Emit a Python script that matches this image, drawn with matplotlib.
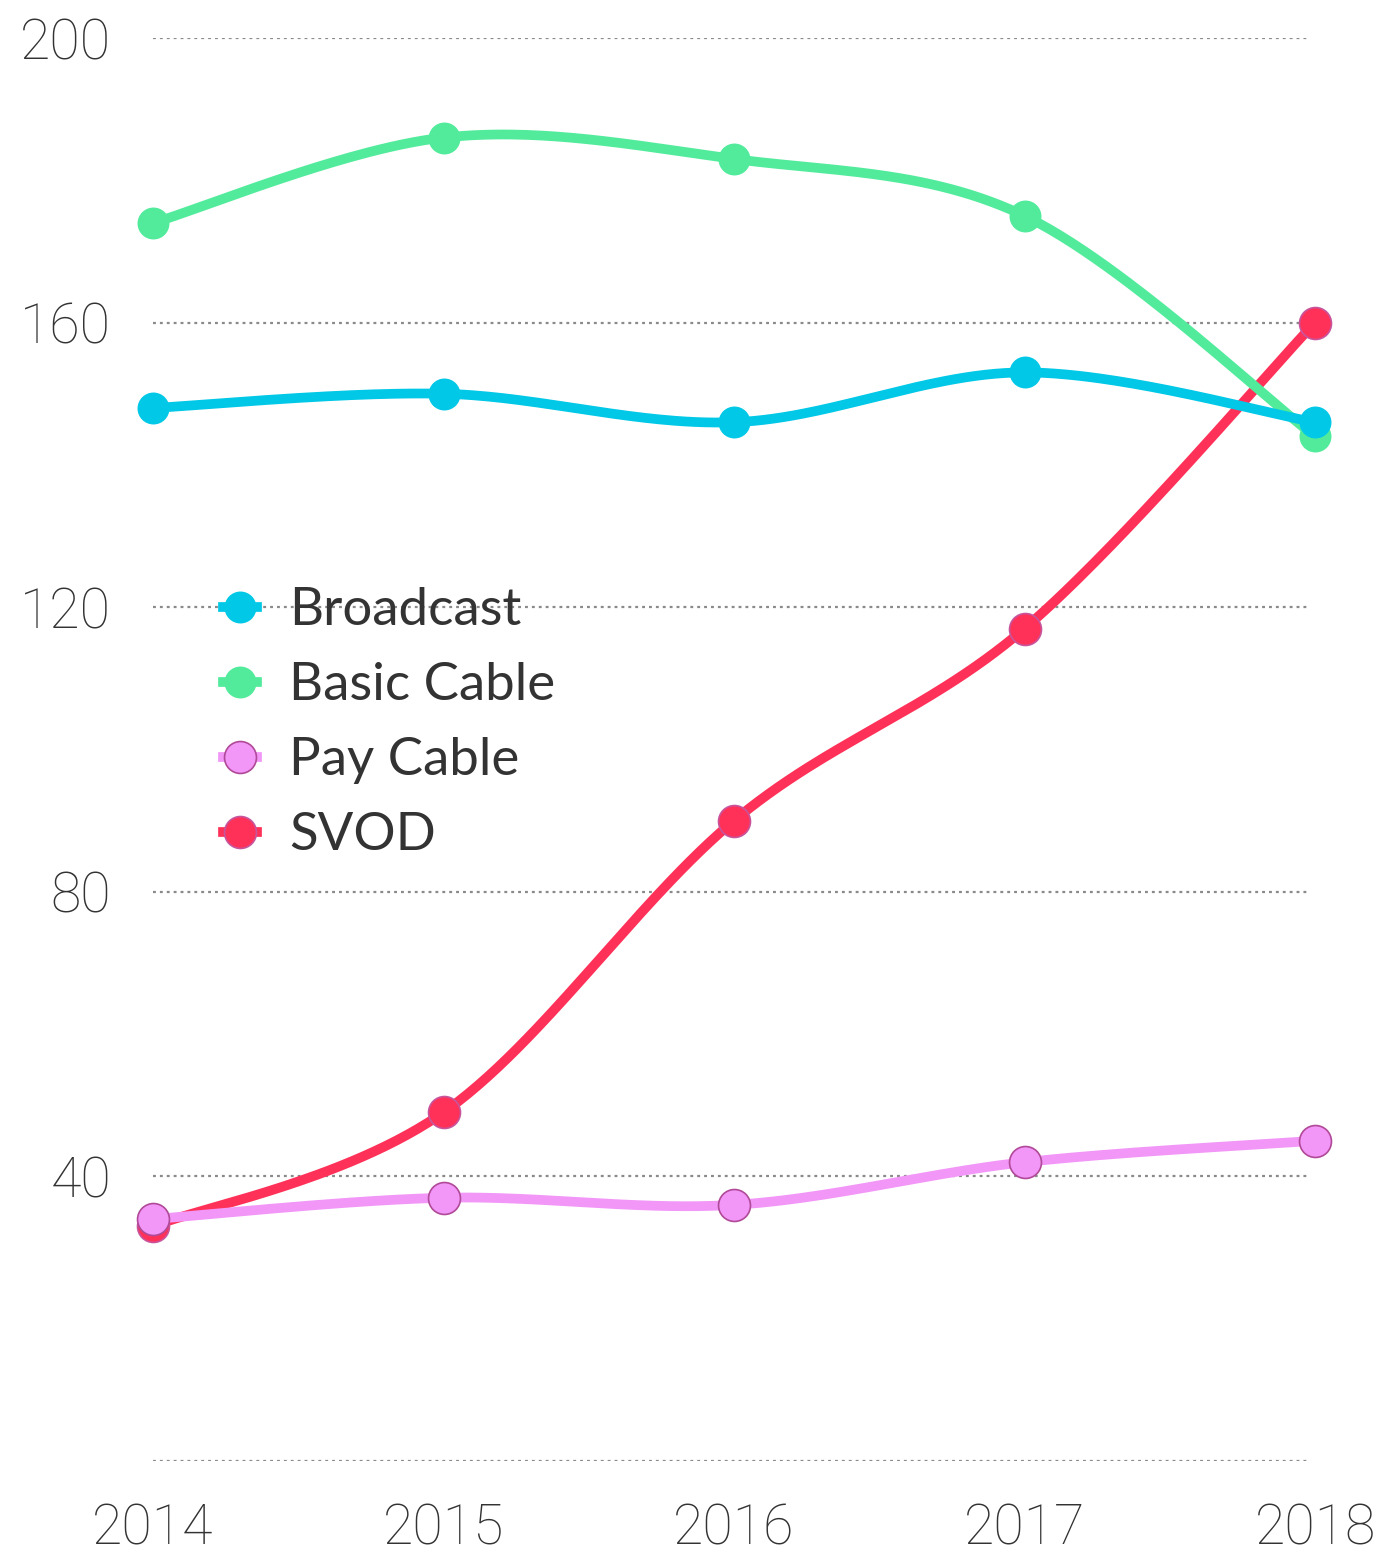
import numpy as np
import matplotlib.pyplot as plt
from matplotlib.lines import Line2D

# данные
years = [2014, 2015, 2016, 2017, 2018]
broadcast = [148, 150, 146, 153, 146]
basic_cable = [174, 186, 183, 175, 144]
pay_cable = [34, 37, 36, 42, 45]
svod = [33, 49, 90, 117, 160]

y_ticks = [0, 40, 80, 120, 160, 200]
y_labels = ['', '40', '80', '120', '160', '200']

names = ['Broadcast', 'Basic Cable', 'Pay Cable', 'SVOD']
colors = ['#00c8e6', '#52eb9c', '#f296f8', '#ff3158']
edges = [None, None, '#b04a98', '#c8549c']


def cardinal(x, y, n=60):
    # сглаженная кривая через точки (кардинальный сплайн, tension 0)
    x = np.asarray(x, float)
    y = np.asarray(y, float)
    xp = np.concatenate([[x[0]], x, [x[-1]]])
    yp = np.concatenate([[y[0]], y, [y[-1]]])
    xs, ys = [], []
    t = np.linspace(0, 1, n)
    for i in range(len(x) - 1):
        p0, p1, p2, p3 = i, i + 1, i + 2, i + 3
        mx1 = (xp[p2] - xp[p0]) / 2
        mx2 = (xp[p3] - xp[p1]) / 2
        my1 = (yp[p2] - yp[p0]) / 2
        my2 = (yp[p3] - yp[p1]) / 2
        h00 = 2 * t**3 - 3 * t**2 + 1
        h10 = t**3 - 2 * t**2 + t
        h01 = -2 * t**3 + 3 * t**2
        h11 = t**3 - t**2
        xs.append(h00 * xp[p1] + h10 * mx1 + h01 * xp[p2] + h11 * mx2)
        ys.append(h00 * yp[p1] + h10 * my1 + h01 * yp[p2] + h11 * my2)
    return np.concatenate(xs), np.concatenate(ys)


W, H = 1378, 1556
fig = plt.figure(figsize=(W / 100, H / 100), dpi=100)
ax = fig.add_axes([153 / W, (H - 1461) / H, 1162 / W, 1423 / H])
ax.set_xlim(2014, 2018)
ax.set_ylim(0, 200)
for s in ax.spines.values():
    s.set_visible(False)
ax.tick_params(length=0)

# сетка
x_end = 2014 + 4 * (1308 - 153) / 1162
for yt in y_ticks:
    ax.hlines(yt, 2014, x_end, colors='#8a8a8a', lw=1.6,
              linestyles=(0, (1.3, 1.8)), zorder=1)

series = [broadcast, basic_cable, pay_cable, svod]
handles = []
for k, (name, vals, c, ec) in enumerate(zip(names, series, colors, edges)):
    z = 10 - k
    sx, sy = cardinal(years, vals)
    ax.plot(sx, sy, color=c, lw=7, solid_capstyle='butt', zorder=z, clip_on=False)
    ax.plot(years, vals, 'o', ms=23, color=c,
            markeredgecolor=ec if ec else c, markeredgewidth=1.2 if ec else 0,
            zorder=z, clip_on=False)
    handles.append(Line2D([], [], color=c, lw=7, marker='o', ms=23,
                          markeredgecolor=ec if ec else c,
                          markeredgewidth=1.2 if ec else 0, label=name))

ax.set_xticks(years)
ax.set_xticklabels([str(y) for y in years], fontsize=40, color='#333333',
                   family='Roboto', fontweight='light')
ax.set_yticks(y_ticks)
ax.set_yticklabels(y_labels, fontsize=40, color='#333333',
                   family='Roboto', fontweight='light')
ax.tick_params(axis='x', pad=30)
ax.tick_params(axis='y', pad=30)

leg = ax.legend(handles=handles, loc='upper left',
                bbox_to_anchor=(49 / 1162, 1 - (566 - 38) / 1423),
                frameon=False, handlelength=0.65, handletextpad=0.6,
                labelspacing=0.53, borderaxespad=0,
                prop={'family': 'Lato', 'size': 38})
for t in leg.get_texts():
    t.set_color('#333333')

fig.savefig('out.png', dpi=100, facecolor='white')
